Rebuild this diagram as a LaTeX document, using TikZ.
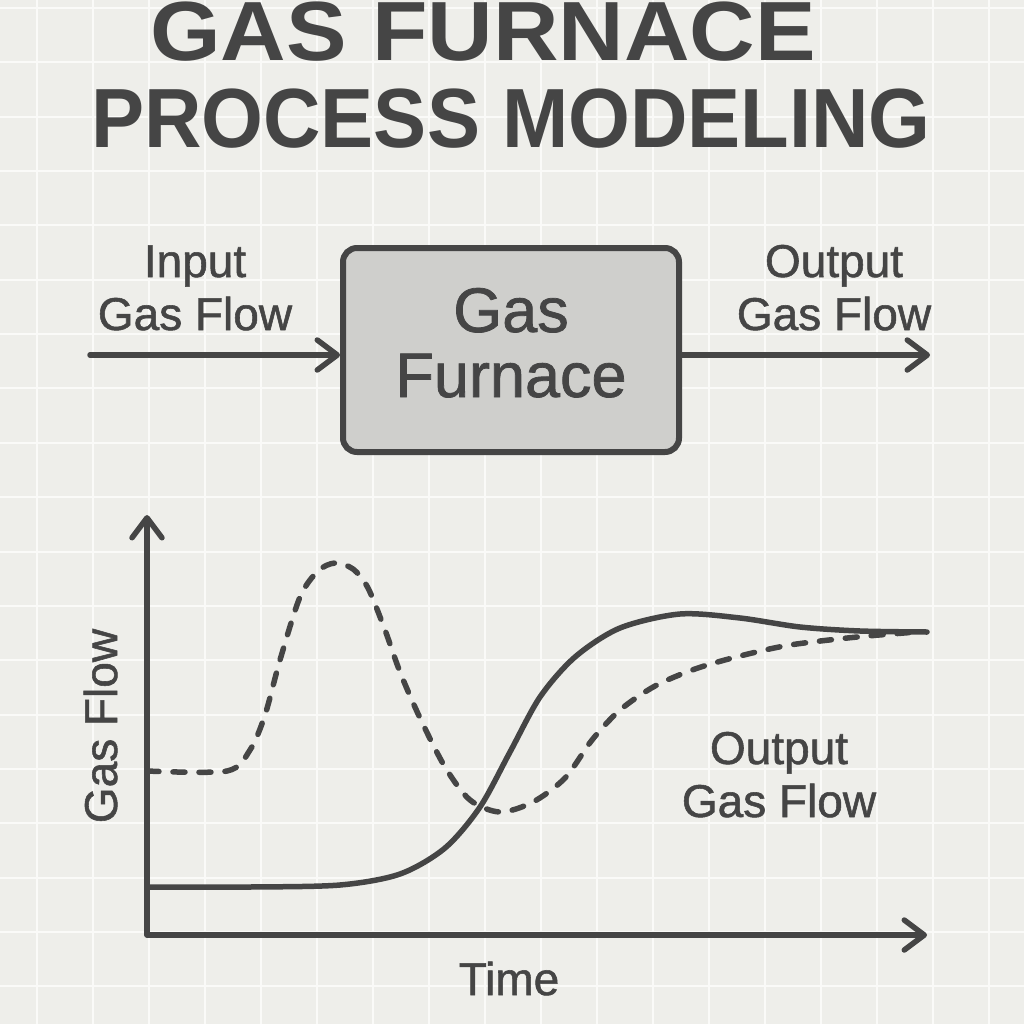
\documentclass[tikz,border=0pt]{standalone}
\usepackage{fontspec}
\setmainfont{Liberation Sans}
\newfontfamily\lblfont[FakeBold=1.2]{Liberation Sans}
\usetikzlibrary{arrows.meta}
\definecolor{bgc}{HTML}{EEEEEA}
\definecolor{gridc}{HTML}{FAFAF8}
\definecolor{ink}{HTML}{454545}
\definecolor{boxc}{HTML}{CFCFCC}
\begin{document}
\begin{tikzpicture}[x=1pt,y=-1pt,
  lbl/.style={text=ink, font=\lblfont\fontsize{46}{53}\selectfont, align=center, inner sep=0pt},
  ttl/.style={text=ink, font=\bfseries\fontsize{84}{88}\selectfont, inner sep=0pt, anchor=base},
  barb/.style={-{Straight Barb[length=20pt,width=30pt,round]}},
  wire/.style={draw=ink, line width=5.5pt, line cap=round, line join=round},
  boxstyle/.style={draw=ink, fill=boxc, line width=6pt, rounded corners=14pt,
    minimum width=336pt, minimum height=204pt, inner sep=0pt}]
% background and grid
\fill[bgc] (0,0) rectangle (1024,1024);
\useasboundingbox (0,0) rectangle (1024,1024);
\foreach \k in {0,...,17} { \draw[gridc, line width=2pt] ({37+56*\k},0) -- ({37+56*\k},1024); }
\foreach \k in {0,...,18} { \draw[gridc, line width=2pt] (0,{8+54.35*\k}) -- (1024,{8+54.35*\k}); }
% title
\node[ttl] (t1) at (483,61) {\scalebox{1.08}[1]{GAS FURNACE}};
\node[ttl] (t2) at (511,148) {\scalebox{0.947}[1]{PROCESS MODELING}};
% block diagram
\node[boxstyle] (furnace) at (511,350) {};
\node[lbl, font=\lblfont\fontsize{63}{65}\selectfont, anchor=base] (furnacetxt) at (511,397) {Gas\\Furnace};
\coordinate (in0) at (90,355);
\coordinate (out1) at (930,355);
\draw[wire, barb] (in0) -- (in0 -| furnace.west);
\draw[wire, barb] (out1 -| furnace.east) -- (out1);
\node[lbl, anchor=base] (inlbl) at (195,330) {Input\\Gas Flow};
\node[lbl, anchor=base] (outlbl) at (834,330) {Output\\Gas Flow};
% chart axes
\coordinate (ytop) at (147,515);
\coordinate (O) at (147,935);
\coordinate (xend) at (927,935);
\draw[wire, {Straight Barb[length=20pt,width=30pt,round]}-{Straight Barb[length=20pt,width=30pt,round]}] (ytop) -- (O) -- (xend);
% curves
\draw[wire] plot[smooth, tension=0.5] coordinates {(147,887) (250,887) (340,885) (400,874) (445,848) (480,807) (510,752) (540,697) (575,657) (620,628) (680,614) (740,618) (800,627) (860,631) (927,632)};
\draw[wire, dash pattern=on 12pt off 14pt] plot[smooth, tension=0.5] coordinates {(147,771) (227,771) (250,750) (265,715) (280,660) (300,597) (318,571) (335,563) (353,569) (368,588) (385,630) (400,672) (420,718) (445,767) (470,800) (500,812) (533,802) (565,778) (592,740) (620,710) (655,686) (695,669) (740,656) (790,645) (857,637) (917,632)};
% chart labels
\node[lbl, anchor=base, rotate=90] (ylbl) at (117,726) {Gas Flow};
\node[lbl, anchor=base] (xlbl) at (509,995) {Time};
\node[lbl, anchor=base] (clbl) at (779,817) {Output\\Gas Flow};
\end{tikzpicture}
\end{document}
